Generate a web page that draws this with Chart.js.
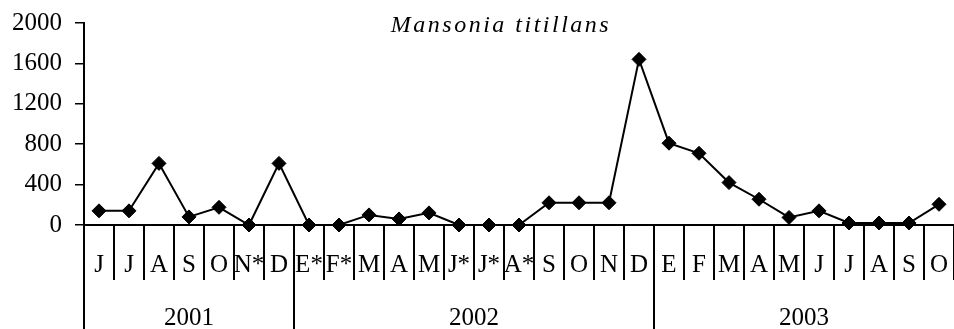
<!DOCTYPE html>
<html>
<head>
<meta charset="utf-8">
<script src="https://cdn.jsdelivr.net/npm/chart.js@4/dist/chart.umd.min.js"></script>
<style>
  html, body { margin: 0; padding: 0; background: #fff; overflow: hidden; }
</style>
</head>
<body>
<canvas id="mansoniaChart" width="962" height="329"></canvas>
<script>
// monthly captures, June 2001 - October 2003 (* = no sampling)
const months = ['J', 'J', 'A', 'S', 'O', 'N*', 'D',
    'E*', 'F*', 'M', 'A', 'M', 'J*', 'J*', 'A*', 'S', 'O', 'N', 'D',
    'E', 'F', 'M', 'A', 'M', 'J', 'J', 'A', 'S', 'O'];
const counts = [140, 140, 610, 80, 175, 0, 610,
    0, 0, 100, 60, 120, 0, 0, 0, 220, 220, 220, 1640,
    810, 710, 420, 255, 75, 140, 20, 20, 20, 205];
const years = ['2001', '2002', '2003'];
const monthsPerYear = [7, 12, 10];
const yTicks = [0, 400, 800, 1200, 1600, 2000];

const serif = "'Times New Roman', 'Liberation Serif', serif";

// month labels, year row and the title, drawn under the x axis
const axisRows = {
    id: 'axisRows',
    afterDraw(chart) {
        const ctx = chart.ctx;
        const x = chart.scales.x;
        const area = chart.chartArea;
        const step = x.width / months.length;

        ctx.save();
        ctx.fillStyle = '#000';
        ctx.strokeStyle = '#000';
        ctx.textAlign = 'center';
        ctx.textBaseline = 'alphabetic';

        ctx.font = '25px ' + serif;
        months.forEach((m, i) => {
            ctx.fillText(m, x.getPixelForValue(i), 272);
        });

        // year spans
        ctx.lineWidth = 2;
        ctx.font = '25px ' + serif;
        let start = 0;
        years.forEach((y, i) => {
            const left = x.getPixelForValue(start) - step / 2;
            const right = x.getPixelForValue(start + monthsPerYear[i] - 1) + step / 2;
            ctx.beginPath();
            ctx.moveTo(Math.round(left), area.bottom);
            ctx.lineTo(Math.round(left), chart.height);
            ctx.stroke();
            ctx.fillText(y, (left + right) / 2, 325);
            start += monthsPerYear[i];
        });

        ctx.font = 'italic 24px ' + serif;
        ctx.letterSpacing = '2.5px';
        ctx.fillText('Mansonia titillans', 501, 32);
        ctx.restore();
    }
};

const ctx = document.getElementById('mansoniaChart').getContext('2d');
const mansoniaChart = new Chart(ctx, {
    type: 'line',
    data: {
        labels: months,
        datasets: [{
            data: counts,
            borderColor: '#000',
            borderWidth: 2,
            pointStyle: 'rectRot',
            pointRadius: 7,
            pointBackgroundColor: '#000',
            pointBorderColor: '#000',
            pointBorderWidth: 1,
            tension: 0,
            clip: false
        }]
    },
    options: {
        responsive: false,
        animation: false,
        layout: { padding: { top: 23, right: 1, left: 0, bottom: 0 } },
        plugins: {
            legend: { display: false },
            title: { display: false },
            tooltip: { enabled: false }
        },
        scales: {
            x: {
                type: 'category',
                offset: true,
                grid: {
                    offset: true,
                    drawOnChartArea: false,
                    drawTicks: true,
                    tickLength: 55,
                    color: '#000',
                    lineWidth: 2
                },
                border: { color: '#000', width: 2 },
                ticks: { display: false },
                afterFit: (scale) => { scale.height = 104; }
            },
            y: {
                min: 0,
                max: 2000,
                afterBuildTicks: (scale) => {
                    scale.ticks = yTicks.map(v => ({ value: v }));
                },
                grid: {
                    drawOnChartArea: false,
                    drawTicks: true,
                    tickLength: 9,
                    color: '#000',
                    lineWidth: 1.5
                },
                border: { color: '#000', width: 2 },
                ticks: {
                    color: '#000',
                    padding: 13,
                    font: { family: serif, size: 25 },
                    callback: (value) => String(value)
                },
                afterFit: (scale) => {
                    scale.width = 84;
                    scale.paddingTop = 0;
                    scale.paddingBottom = 0;
                }
            }
        }
    },
    plugins: [axisRows]
});
</script>
</body>
</html>
